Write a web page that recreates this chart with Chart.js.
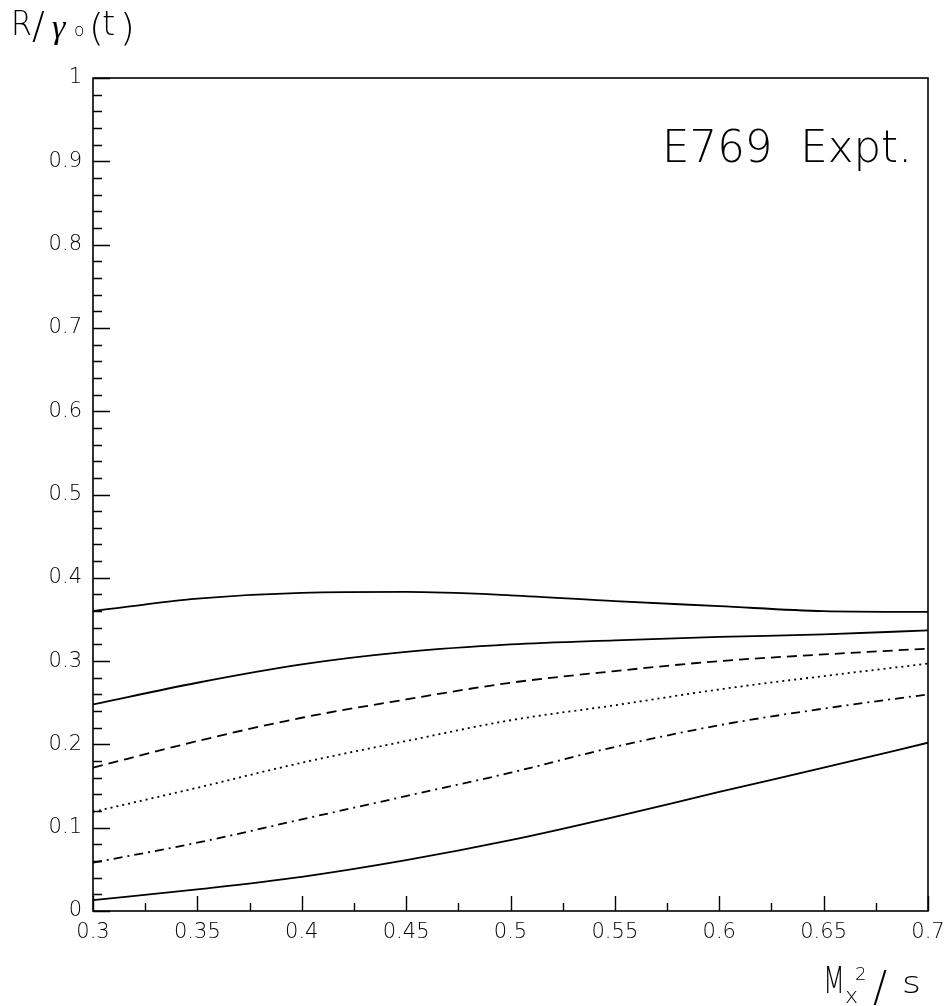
<!DOCTYPE html>
<html>
<head>
<meta charset="utf-8">
<script src="https://cdn.jsdelivr.net/npm/chart.js@4/dist/chart.umd.min.js"></script>
<style>
  html, body { margin: 0; padding: 0; background: #fff; }
  canvas { display: block; }
</style>
</head>
<body>
<canvas id="chart" width="947" height="1006"></canvas>
<script>
// x = Mx^2/s, y = R/gamma0(t)
const xValues = [0.3, 0.35, 0.4, 0.45, 0.5, 0.55, 0.6, 0.65, 0.7];

const curveTop     = [0.360, 0.375, 0.382, 0.383, 0.379, 0.372, 0.366, 0.360, 0.359];
const curveSolid2  = [0.248, 0.274, 0.296, 0.311, 0.320, 0.325, 0.329, 0.332, 0.337];
const curveDashed  = [0.172, 0.204, 0.232, 0.254, 0.274, 0.288, 0.300, 0.308, 0.315];
const curveDotted  = [0.119, 0.148, 0.178, 0.204, 0.229, 0.247, 0.266, 0.282, 0.297];
const curveDashDot = [0.058, 0.082, 0.110, 0.138, 0.166, 0.197, 0.223, 0.243, 0.260];
const curveBottom  = [0.013, 0.026, 0.041, 0.061, 0.085, 0.113, 0.143, 0.172, 0.202];

const xTickLabels = ['0.3', '0.35', '0.4', '0.45', '0.5', '0.55', '0.6', '0.65', '0.7'];
const yTickLabels = ['0', '0.1', '0.2', '0.3', '0.4', '0.5', '0.6', '0.7', '0.8', '0.9', '1'];

const annotation = 'E769  Expt.';

const FONT = '"DejaVu Sans", "Liberation Sans", Arial, sans-serif';

const toPoints = ys => ys.map((y, i) => ({ x: xValues[i], y }));

function line(data, dash) {
  return {
    data: toPoints(data),
    borderColor: '#000',
    borderWidth: 1.8,
    borderDash: dash,
    pointRadius: 0,
    fill: false,
    cubicInterpolationMode: 'monotone'
  };
}

// draw text, optionally squeezed to a given width
function putText(ctx, text, x, y, font, width) {
  ctx.font = font;
  ctx.save();
  ctx.translate(x, y);
  if (width) ctx.scale(width / ctx.measureText(text).width, 1);
  ctx.fillText(text, 0, 0);
  ctx.restore();
}

// frame, inward ticks and the text labels
const decorations = {
  id: 'decorations',
  afterDraw(chart) {
    const ctx = chart.ctx;
    const { left, right, top, bottom } = chart.chartArea;
    const xs = chart.scales.x;
    const ys = chart.scales.y;
    ctx.save();
    ctx.strokeStyle = '#000';
    ctx.lineWidth = 1.6;
    ctx.strokeRect(left, top, right - left, bottom - top);

    ctx.lineWidth = 1.4;
    ctx.beginPath();
    for (let i = 0; i <= 50; i++) {
      const py = Math.round(ys.getPixelForValue(i * 0.02)) + 0.5;
      const len = i % 5 === 0 ? 17 : 9;
      ctx.moveTo(left, py);
      ctx.lineTo(left + len, py);
    }
    for (let i = 0; i <= 16; i++) {
      const px = Math.round(xs.getPixelForValue(0.3 + i * 0.025)) + 0.5;
      const len = i % 2 === 0 ? 15 : 8;
      ctx.moveTo(px, bottom);
      ctx.lineTo(px, bottom - len);
    }
    ctx.stroke();

    ctx.fillStyle = '#000';
    ctx.textBaseline = 'alphabetic';
    ctx.textAlign = 'left';

    // y title  R/γ0(t)
    const t = '200 34px ' + FONT;
    putText(ctx, 'R', 11, 35, t, 21);
    putText(ctx, '/', 32, 38, '200 38px ' + FONT);
    putText(ctx, 'γ', 52, 38, 'italic 34px "Liberation Serif", serif');
    putText(ctx, 'o', 74, 36, '200 17px ' + FONT);
    putText(ctx, '(', 89, 40, '200 38px ' + FONT);
    putText(ctx, 't', 102, 35, t);
    putText(ctx, ')', 120, 40, '200 38px ' + FONT);

    // x title  Mx^2/s
    putText(ctx, 'M', 823, 993, '200 38px ' + FONT, 22);
    putText(ctx, 'x', 845, 1003, '200 22px ' + FONT);
    putText(ctx, '2', 855, 980, '200 18px ' + FONT);
    putText(ctx, '/', 873, 1001, '200 42px ' + FONT);
    putText(ctx, 's', 902, 993, '200 30px ' + FONT, 19);

    // annotation
    putText(ctx, annotation, 662, 162, '200 45px ' + FONT, 250);
    ctx.restore();
  }
};

new Chart(document.getElementById('chart'), {
  type: 'line',
  data: {
    datasets: [
      line(curveTop, []),
      line(curveSolid2, []),
      line(curveDashed, [10, 6]),
      line(curveDotted, [2, 4]),
      line(curveDashDot, [9, 5, 2, 5]),
      line(curveBottom, [])
    ]
  },
  options: {
    responsive: false,
    animation: false,
    layout: { padding: { left: 0, top: 78, right: 19, bottom: 0 } },
    plugins: {
      legend: { display: false },
      tooltip: { enabled: false }
    },
    scales: {
      x: {
        type: 'linear',
        min: 0.3,
        max: 0.7,
        afterFit: s => { s.height = 95; s.paddingLeft = 0; s.paddingRight = 0; },
        afterBuildTicks: s => { s.ticks = xTickLabels.map(v => ({ value: parseFloat(v) })); },
        grid: { display: false, drawTicks: false },
        border: { display: false },
        ticks: {
          padding: 9,
          color: '#000',
          font: { family: FONT, size: 21, weight: '300' },
          callback: (v, i) => xTickLabels[i]
        }
      },
      y: {
        type: 'linear',
        min: 0,
        max: 1,
        afterFit: s => { s.width = 93; s.paddingTop = 0; s.paddingBottom = 0; },
        afterBuildTicks: s => { s.ticks = yTickLabels.map(v => ({ value: parseFloat(v) })); },
        grid: { display: false, drawTicks: false },
        border: { display: false },
        ticks: {
          padding: 11,
          color: '#000',
          font: { family: FONT, size: 21, weight: '300' },
          callback: (v, i) => yTickLabels[i]
        }
      }
    }
  },
  plugins: [decorations]
});
</script>
</body>
</html>
